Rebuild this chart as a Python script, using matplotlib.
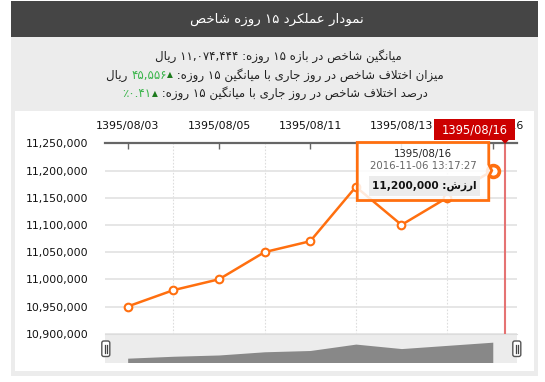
import numpy as np
import matplotlib
matplotlib.use("Agg")
import matplotlib.pyplot as plt
from matplotlib.patches import Rectangle, FancyBboxPatch, Polygon
from matplotlib.ticker import FuncFormatter

# 15 day index values (rial)
dates = ['1395/08/03', '1395/08/04', '1395/08/05', '1395/08/08', '1395/08/11',
         '1395/08/12', '1395/08/13', '1395/08/15', '1395/08/16']
values = [10950000, 10980000, 11000000, 11050000, 11070000,
          11170000, 11100000, 11150000, 11200000]
y_ticks = [10900000, 10950000, 11000000, 11050000, 11100000, 11150000, 11200000, 11250000]

title = 'نمودار عملکرد ۱۵ روزه شاخص'
line1 = 'میانگین شاخص در بازه ۱۵ روزه: ۱۱,۰۷۴,۴۴۴ ریال'
line2_txt = 'میزان اختلاف شاخص در روز جاری با میانگین ۱۵ روزه:'
line2_val = '۴۵,۵۵۶'
line3_txt = 'درصد اختلاف شاخص در روز جاری با میانگین ۱۵ روزه:'
line3_val = '٪۰.۴۱'
tip_time = '2016-11-06 13:17:27'
tip_label = 'ارزش:'
cursor_pos = 8.27   # mouse position (hover)

ORANGE = '#ff6f0f'

# --- minimal arabic/persian shaping (matplotlib has no RTL layout) ---
FORMS = {
    'آ': ('\uFE81', '\uFE82'), 'ا': ('\uFE8D', '\uFE8E'),
    'ب': ('\uFE8F', '\uFE90', '\uFE91', '\uFE92'), 'پ': ('\uFB56', '\uFB57', '\uFB58', '\uFB59'),
    'ت': ('\uFE95', '\uFE96', '\uFE97', '\uFE98'), 'ج': ('\uFE9D', '\uFE9E', '\uFE9F', '\uFEA0'),
    'چ': ('\uFB7A', '\uFB7B', '\uFB7C', '\uFB7D'), 'ح': ('\uFEA1', '\uFEA2', '\uFEA3', '\uFEA4'),
    'خ': ('\uFEA5', '\uFEA6', '\uFEA7', '\uFEA8'), 'د': ('\uFEA9', '\uFEAA'),
    'ذ': ('\uFEAB', '\uFEAC'), 'ر': ('\uFEAD', '\uFEAE'), 'ز': ('\uFEAF', '\uFEB0'),
    'ژ': ('\uFB8A', '\uFB8B'), 'س': ('\uFEB1', '\uFEB2', '\uFEB3', '\uFEB4'),
    'ش': ('\uFEB5', '\uFEB6', '\uFEB7', '\uFEB8'), 'ص': ('\uFEB9', '\uFEBA', '\uFEBB', '\uFEBC'),
    'ع': ('\uFEC9', '\uFECA', '\uFECB', '\uFECC'), 'ف': ('\uFED1', '\uFED2', '\uFED3', '\uFED4'),
    'ق': ('\uFED5', '\uFED6', '\uFED7', '\uFED8'), 'ک': ('\uFB8E', '\uFB8F', '\uFB90', '\uFB91'),
    'گ': ('\uFB92', '\uFB93', '\uFB94', '\uFB95'), 'ل': ('\uFEDD', '\uFEDE', '\uFEDF', '\uFEE0'),
    'م': ('\uFEE1', '\uFEE2', '\uFEE3', '\uFEE4'), 'ن': ('\uFEE5', '\uFEE6', '\uFEE7', '\uFEE8'),
    'و': ('\uFEED', '\uFEEE'), 'ه': ('\uFEE9', '\uFEEA', '\uFEEB', '\uFEEC'),
    'ی': ('\uFBFC', '\uFBFD', '\uFBFE', '\uFBFF'),
}
LAMALEF = {'ا': ('\uFEFB', '\uFEFC'), 'آ': ('\uFEF5', '\uFEF6')}


def shape(word):
    out = []
    i = 0
    while i < len(word):
        c = word[i]
        prev = word[i - 1] if i > 0 else None
        nxt = word[i + 1] if i + 1 < len(word) else None
        jp = prev in FORMS and len(FORMS[prev]) == 4
        if c not in FORMS:
            out.append(c)
        elif c == 'ل' and nxt in LAMALEF:
            out.append(LAMALEF[nxt][1 if jp else 0])
            i += 1
        else:
            f = FORMS[c]
            jn = len(f) == 4 and nxt in FORMS
            out.append(f[3] if jp and jn else f[1] if jp else f[2] if jn else f[0])
        i += 1
    return ''.join(out)


def rtl(text):
    toks = []
    for t in reversed(text.split(' ')):
        toks.append(shape(t)[::-1] if any(c in FORMS for c in t) else t)
    return ' '.join(toks)


W, H = 545, 382
fig = plt.figure(figsize=(W / 100, H / 100), dpi=100)


def px_axes(x0, y0, x1, y1):
    return fig.add_axes([x0 / W, 1 - y1 / H, (x1 - x0) / W, (y1 - y0) / H])


bg = px_axes(0, 0, W, H)
bg.set_xlim(0, W)
bg.set_ylim(H, 0)
bg.axis('off')
bg.add_patch(Rectangle((11, 37), 527, 339, fc='#ececec', ec='none'))
bg.add_patch(Rectangle((11, 1), 527, 36, fc='#454545', ec='none'))
bg.add_patch(Rectangle((15, 111), 519, 260, fc='white', ec='none'))

bg.text(277, 19, rtl(title), color='white', fontsize=9.6, ha='center', va='center')
bg.text(278, 56.5, rtl(line1), color='#222', fontsize=8.5, ha='center', va='center')

renderer = fig.canvas.get_renderer()


def segments(ax, xc, y, segs, size):
    txts = [ax.text(0, y, s, color=c, fontsize=fs or size, ha='left', va='center') for s, c, fs in segs]
    widths = [t.get_window_extent(renderer).width for t in txts]
    x = xc - sum(widths) / 2
    for t, w in zip(txts, widths):
        t.set_x(x)
        x += w


segments(bg, 275, 75, [(rtl('ریال') + ' ', '#222', None), (line2_val, '#39b54a', None),
                       ('▲', '#1d7a1d', 5.5), (' ' + rtl(line2_txt), '#222', None)], 8.5)
segments(bg, 275, 93.5, [(line3_val, '#39b54a', None), ('▲', '#1d7a1d', 5.5),
                         (' ' + rtl(line3_txt), '#222', None)], 8.5)

# main chart
x = np.arange(len(values))
ax = px_axes(105.3, 143.3, 516.5, 333.7)
ax.set_zorder(2)
ax.patch.set_visible(False)
ax.set_xlim(-0.49, len(values) - 1 + 0.52)
ax.set_ylim(y_ticks[0], y_ticks[-1])
for s in ['left', 'right', 'bottom']:
    ax.spines[s].set_visible(False)
ax.spines['top'].set_color('#666')
ax.spines['top'].set_linewidth(1.6)

ax.xaxis.tick_top()
ax.set_xticks(x[::2])
ax.set_xticklabels(dates[::2], fontsize=7.9, color='#111')
ax.set_xticks(x, minor=True)
ax.tick_params(axis='x', which='major', direction='in', length=4, width=1, color='#666', pad=9)
ax.tick_params(axis='x', which='minor', length=0)
ax.set_yticks(y_ticks)
ax.yaxis.set_major_formatter(FuncFormatter(lambda v, p: f'{v:,.0f}'))
ax.tick_params(axis='y', length=0, pad=12, labelsize=7.8, labelcolor='#111')
ax.grid(axis='y', color='#e2e2e2', lw=1.2)
ax.grid(axis='x', which='minor', color='#dddddd', lw=0.8, ls=(0, (1.5, 1.5)))
ax.set_axisbelow(True)

ax.axvline(cursor_pos, color='#e57373', lw=1.5, zorder=1)
ax.plot(x, values, color=ORANGE, lw=1.8, marker='o', ms=5.5, mfc='white', mec=ORANGE, mew=1.5, zorder=3)
ax.plot(x[-1], values[-1], marker='o', ms=8.5, mfc='white', mec=ORANGE, mew=2.6, zorder=4)

# navigator
nav = px_axes(105.3, 333.7, 516.5, 362.5)
nav.set_facecolor('#ececec')
nav.set_xlim(ax.get_xlim())
rng = max(values) - min(values)
lo = min(values) - 0.27 * rng
nav.set_ylim(lo, max(values) + 0.53 * rng)
nav.fill_between(x, values, lo, color='#888888', lw=0)
for s in nav.spines.values():
    s.set_visible(False)
nav.spines['top'].set_visible(True)
nav.spines['top'].set_color('#dcdcdc')
nav.set_xticks([])
nav.set_yticks([])

# overlay (pixel coords)
ov = px_axes(0, 0, W, H)
ov.set_zorder(5)
ov.set_xlim(0, W)
ov.set_ylim(H, 0)
ov.axis('off')


def to_px(xd, yd):
    return ov.transData.inverted().transform(ax.transData.transform((xd, yd)))


for hx in [105.8, 516.8]:
    ov.add_patch(FancyBboxPatch((hx - 4, 341), 8, 15.5, boxstyle='round,pad=0,rounding_size=2',
                                fc='white', ec='#555', lw=1))
    ov.plot([hx - 1.3, hx - 1.3], [344.5, 353], color='#444', lw=0.9)
    ov.plot([hx + 1.3, hx + 1.3], [344.5, 353], color='#444', lw=0.9)

# red cursor label
cx, _ = to_px(cursor_pos, y_ticks[-1])
ov.add_patch(Rectangle((cx - 71, 119), 81, 21, fc='#cc0000', ec='none'))
ov.add_patch(Polygon([(cx - 4, 139.5), (cx + 4, 139.5), (cx, 144)], fc='#cc0000', ec='none'))
ov.text(cx - 30.5, 130, dates[-1], color='white', fontsize=8.3, ha='center', va='center')

# tooltip
px, py = to_px(x[-1], values[-1])
l, r, t, b = px - 135.5, px - 4, py - 28, py + 30
ov.add_patch(Polygon([(l, t), (r, t), (r, py - 6), (px - 1, py), (r, py + 6), (r, b), (l, b)],
                     closed=True, fc=(1, 1, 1, 0.85), ec=ORANGE, lw=2))
tc = (l + r) / 2
ov.text(tc, t + 11, dates[-1], fontsize=7.3, color='#222', ha='center', va='center')
ov.text(tc, t + 23.5, tip_time, fontsize=7.3, color='#666', ha='center', va='center')
ov.add_patch(Rectangle((l + 11.5, t + 33), r - l - 20, 20.5, fc='#ececec', ec='none'))
ov.text(tc + 1, t + 43.5, f'{values[-1]:,.0f} ' + rtl(tip_label), fontsize=7.6, fontweight='bold',
        color='#111', ha='center', va='center')

fig.savefig('out.png', dpi=100)
